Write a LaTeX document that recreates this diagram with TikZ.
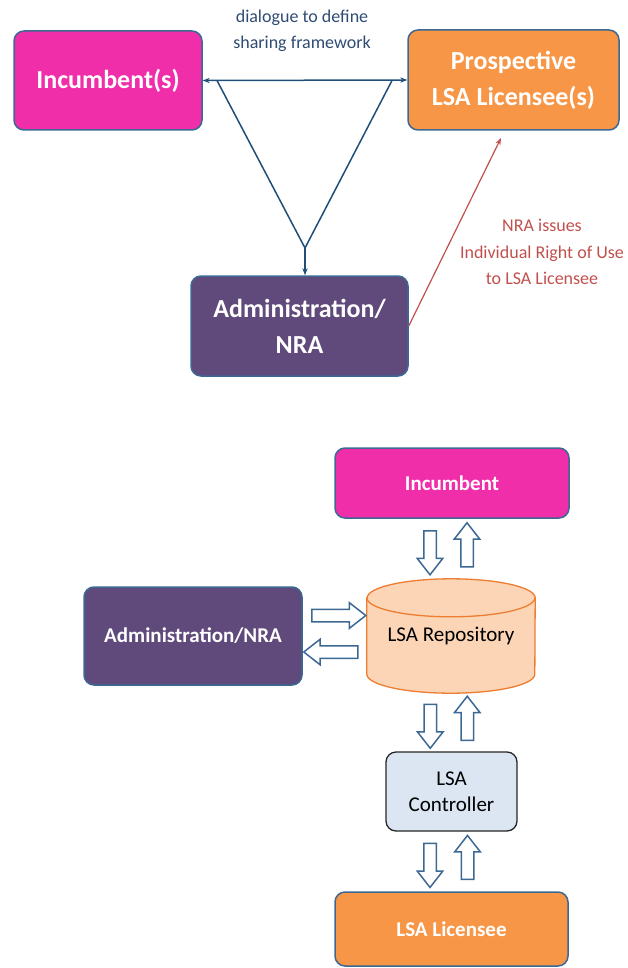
\documentclass[tikz,border=0pt]{standalone}
\usepackage{fontspec}
\setmainfont{Carlito}
\usetikzlibrary{arrows.meta,shapes.arrows,calc,backgrounds}

\definecolor{incpink}{RGB}{240,46,170}
\definecolor{licorange}{RGB}{247,150,70}
\definecolor{nrapurple}{RGB}{96,74,123}
\definecolor{edgeblue}{RGB}{60,104,148}
\definecolor{linkblue}{RGB}{31,78,121}
\definecolor{noteblue}{RGB}{47,75,115}
\definecolor{rightred}{RGB}{192,80,77}
\definecolor{repofill}{RGB}{251,213,181}
\definecolor{repoedge}{RGB}{237,125,49}
\definecolor{ctrlfill}{RGB}{220,230,242}

\begin{document}
\begin{tikzpicture}[x=1pt,y=1pt,
  box/.style={draw=edgeblue, line width=1.5pt, rounded corners=10pt, text=white, align=center, inner sep=0pt},
  bigtext/.style={font=\fontsize{26}{36}\selectfont\bfseries},
  smalltext/.style={font=\fontsize{21}{26}\selectfont\bfseries},
  plaintext/.style={font=\fontsize{21}{26}\selectfont},
  link/.style={linkblue, line width=1.5pt},
  blockarrow/.style={single arrow, draw=edgeblue, fill=white, line width=1.5pt, inner sep=5.5pt,
    minimum width=24pt, single arrow head extend=6.5pt, single arrow tip angle=76, minimum height=44pt},
]
\useasboundingbox (0,0) rectangle (628,-968);

\def\capry{19}

% upper diagram
\node[box, fill=incpink, bigtext, minimum width=188pt, minimum height=99pt] (inc) at (108,-80.5) {Incumbent(s)};
\node[box, fill=licorange, bigtext, minimum width=211pt, minimum height=100pt] (pros) at (513.5,-80) {Prospective\\LSA Licensee(s)};
\node[box, fill=nrapurple, bigtext, minimum width=217pt, minimum height=100pt] (adm) at (299.5,-326) {Administration/\\NRA};
\node[text=noteblue, font=\fontsize{18}{26}\selectfont, align=center] (dlg) at (302,-31) {dialogue to define\\sharing framework};

\draw[link, {Stealth[length=7pt]}-{Stealth[length=7pt]}] (inc.east) -- (pros.west);
\coordinate (tl) at (217,-80.5);
\coordinate (tr) at (392,-80.5);
\coordinate (apex) at (305,-248);
\draw[link] (tl) -- (apex) -- (tr);
\draw[link, -{Stealth[length=7pt]}] (apex) -- (apex |- adm.north);

\coordinate (rightend) at (501,-138);
\draw[rightred, line width=1.2pt, -{Stealth[length=7pt]}] (adm.east) -- (rightend);
\node[text=rightred, font=\fontsize{18}{26.5}\selectfont, align=center] (iru) at (542,-252) {NRA issues\\Individual Right of Use\\to LSA Licensee};

% lower diagram
\node[box, fill=incpink, smalltext, minimum width=234pt, minimum height=70pt] (inc2) at (452,-483) {Incumbent};
\node[plaintext, minimum width=168pt, minimum height=114pt, inner sep=0pt] (repo) at (451,-636) {\raisebox{-6pt}{LSA Repository}};
\node[box, fill=nrapurple, smalltext, minimum width=218pt, minimum height=98pt] (adm2) at (193,-636) {Administration/NRA};
\node[plaintext, draw=black!85, line width=1.3pt, rounded corners=10pt, fill=ctrlfill, align=center,
  minimum width=131pt, minimum height=79pt, inner sep=0pt] (ctrl) at (451.5,-791.5) {LSA\\Controller};
\node[box, fill=licorange, smalltext, minimum width=233pt, minimum height=74pt] (lic) at (451.5,-929) {LSA Licensee};

\begin{scope}[on background layer]
\draw[repoedge, fill=repofill, line width=1.3pt] ($(repo.north west)+(0,-\capry)$) -- ($(repo.south west)+(0,\capry)$)
  arc[start angle=180, end angle=360, x radius=84, y radius=\capry] -- ($(repo.north east)+(0,-\capry)$)
  arc[start angle=0, end angle=180, x radius=84, y radius=\capry] -- cycle;
\draw[repoedge, line width=1.3pt] ($(repo.north west)+(0,-\capry)$) arc[start angle=180, end angle=360, x radius=84, y radius=\capry];
\end{scope}

\node[blockarrow, rotate=-90] (incdown) at ($(inc2.south)!0.5!(repo.north)+(-21.5,0)$) {};
\node[blockarrow, rotate=90] (incup) at ($(inc2.south)!0.5!(repo.north)+(15.5,0)$) {};
\node[blockarrow, rotate=-90] (repodown) at ($(repo.south)!0.5!(ctrl.north)+(-21,0)$) {};
\node[blockarrow, rotate=90] (repoup) at ($(repo.south)!0.5!(ctrl.north)+(16,0)$) {};
\node[blockarrow, rotate=-90] (ctrldown) at ($(ctrl.south)!0.5!(lic.north)+(-21.5,0)$) {};
\node[blockarrow, rotate=90] (ctrlup) at ($(ctrl.south)!0.5!(lic.north)+(16,0)$) {};
\node[blockarrow, minimum height=54pt] (nraright) at ($(adm2.east)!0.5!(repo.west)+(0,20.5)$) {};
\node[blockarrow, minimum height=54pt, rotate=180] (nraleft) at ($(adm2.east)!0.5!(repo.west)+(0,-16)$) {};

\end{tikzpicture}
\end{document}
